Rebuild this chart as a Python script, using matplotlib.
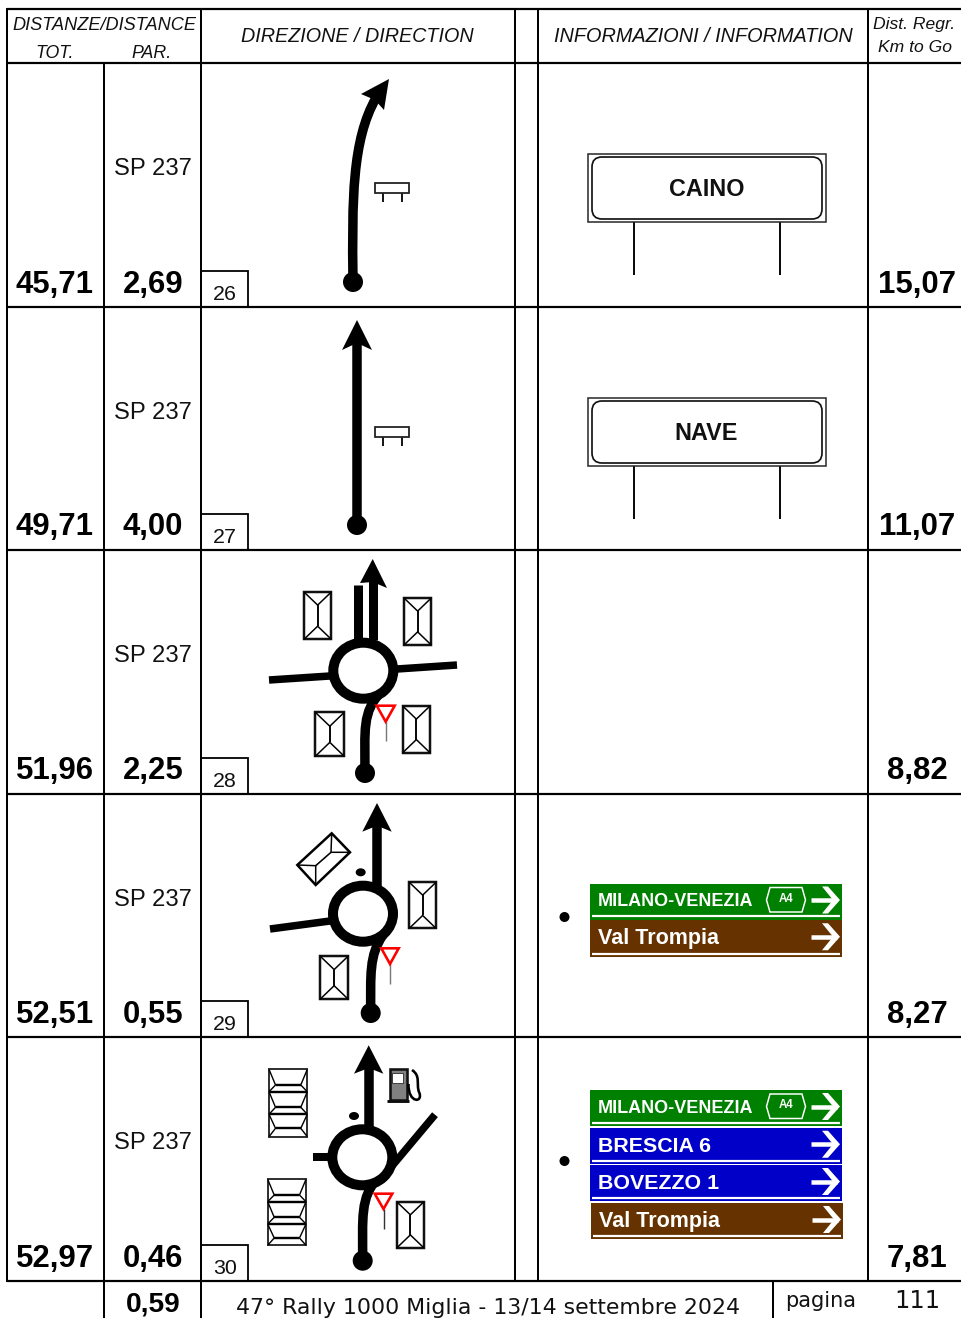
import matplotlib
matplotlib.use("Agg")
import matplotlib.pyplot as plt
from matplotlib.patches import Ellipse, Polygon, Rectangle, FancyBboxPatch, Circle, PathPatch
from matplotlib.path import Path

# ---- data -------------------------------------------------------------
row_ids = ["26", "27", "28", "29", "30"]
total_km = ["45,71", "49,71", "51,96", "52,51", "52,97"]
partial_km = ["2,69", "4,00", "2,25", "0,55", "0,46"]
road_names = ["SP 237", "SP 237", "SP 237", "SP 237", "SP 237"]
km_to_go = ["15,07", "11,07", "8,82", "8,27", "7,81"]
next_partial = "0,59"
town_signs = {0: "CAINO", 1: "NAVE"}
footer_title = "47° Rally 1000 Miglia - 13/14 settembre 2024"
footer_page_label = "pagina"
footer_page = "111"

plt.rcParams["font.family"] = ["Liberation Sans", "DejaVu Sans"]

W, H = 961, 1318
fig = plt.figure(figsize=(W / 100, H / 100), dpi=100, facecolor="white")
ax = fig.add_axes([0, 0, 1, 1])
ax.set_xlim(0, W)
ax.set_ylim(H, 0)
ax.axis("off")

def px(v):
    return v * 0.72

ROW_TOPS = [63, 307, 550, 794, 1037]
ROW_BOT = [307, 550, 794, 1037, 1281]

def line(xs, ys, w=2.0, c="black", cap="butt", z=2):
    ax.plot(xs, ys, color=c, lw=px(w), solid_capstyle=cap, solid_joinstyle="miter", zorder=z)

def text(x, y, s, size, **kw):
    kw.setdefault("ha", "center")
    kw.setdefault("va", "center")
    kw.setdefault("color", "black")
    return ax.text(x, y, s, fontsize=size, **kw)

# ---- table grid -------------------------------------------------------
for y in [9, 63] + ROW_BOT[:-1]:
    line([7, 961], [y, y], 2.2)
line([7, 961], [1281, 1281], 2.2)
line([7, 7], [8, 1282], 2.0)
line([104, 104], [63, 1318], 2.0)
line([201, 201], [8, 1318], 2.0)
line([515, 515], [8, 1282], 2.0)
line([538, 538], [8, 1282], 2.0)
line([868, 868], [8, 1282], 2.0)
line([773, 773], [1281, 1318], 2.0)

# ---- header -----------------------------------------------------------
text(104, 26, "DISTANZE/DISTANCE", 13.1, style="italic", color="#111111")
text(55, 54, "TOT.", 12.8, style="italic", color="#111111")
text(151.5, 54, "PAR.", 12.8, style="italic", color="#111111")
text(357.5, 37, "DIREZIONE / DIRECTION", 14.2, style="italic", color="#111111")
text(703, 37, "INFORMAZIONI / INFORMATION", 14.3, style="italic", color="#111111")
text(914.5, 25, "Dist. Regr.", 12.6, style="italic", color="#111111")
text(915, 48, "Km to Go", 12.6, style="italic", color="#111111")

# ---- rows: values -----------------------------------------------------
for i, top in enumerate(ROW_TOPS):
    bot = ROW_BOT[i]
    text(55, bot - 22.5, total_km[i], 22.4, weight="bold")
    text(153, bot - 22.5, partial_km[i], 22.4, weight="bold")
    text(917, bot - 22.5, km_to_go[i], 22.4, weight="bold")
    text(152.5, top + 106, road_names[i], 17.1, color="#111111")
    line([201, 248, 248], [bot - 36, bot - 36, bot], 1.8)
    text(225, bot - 12.5, row_ids[i], 15.4, color="#111111")

text(153, 1305, next_partial, 20.2, weight="bold")
text(488, 1308, footer_title, 15.8, family="DejaVu Sans", color="#111111")
text(821, 1301, footer_page_label, 15.0, family="DejaVu Sans", color="#111111")
text(917, 1301, footer_page, 17.5, family="DejaVu Sans", color="#111111")

# ---- pictogram helpers ------------------------------------------------
def curve(verts, w=9.5):
    codes = [Path.MOVETO] + [Path.CURVE4] * (len(verts) - 1)
    ax.add_patch(PathPatch(Path(verts, codes), fill=False, ec="black", lw=px(w),
                           capstyle="butt", zorder=3))

def arrow_head(tip, left, notch, right):
    ax.add_patch(Polygon([tip, left, notch, right], closed=True, fc="black", ec="none", zorder=4))

def dot(x, y, r=10):
    ax.add_patch(Circle((x, y), r, fc="black", ec="none", zorder=4))

def roundabout(cx, cy):
    ax.add_patch(Ellipse((cx, cy), 60, 56, fc="white", ec="black", lw=px(10), zorder=5))

def small_dot(x, y):
    ax.add_patch(Ellipse((x, y), 10, 8, fc="black", ec="none", zorder=4))

def building(x0, y0, x1, y1):
    ax.add_patch(Rectangle((x0, y0), x1 - x0, y1 - y0, fc="white", ec="#111111", lw=px(2.5), zorder=3))
    mx = (x0 + x1) / 2
    ya, yb = y0 + (x1 - x0) * 0.48, y1 - (x1 - x0) * 0.48
    line([x0, mx, x1], [y0, ya, y0], 1.5, z=4)
    line([x0, mx, x1], [y1, yb, y1], 1.5, z=4)
    line([mx, mx], [ya, yb], 1.9, z=4)

def rotated_building(a, b, c, d, r1, r2):
    ax.add_patch(Polygon([a, b, c, d], closed=True, fc="white", ec="black", lw=px(2.5), zorder=3))
    line([a[0], r1[0], b[0]], [a[1], r1[1], b[1]], 1.5, z=4)
    line([c[0], r2[0], d[0]], [c[1], r2[1], d[1]], 1.5, z=4)
    line([r1[0], r2[0]], [r1[1], r2[1]], 1.6, z=4)

def stacked(x0, y0, x1, y1, ridges, seps):
    ax.add_patch(Rectangle((x0, y0), x1 - x0, y1 - y0, fc="white", ec="#333333", lw=px(2.0), zorder=3))
    ins = (x1 - x0) * 0.17
    edges = [y0] + seps + [y1]
    for k, r in enumerate(ridges):
        line([x0 + ins, x1 - ins], [r, r], 2.4, z=4)
        line([x0, x0 + ins, x0], [edges[k], r, edges[k + 1]], 1.4, z=4)
        line([x1, x1 - ins, x1], [edges[k], r, edges[k + 1]], 1.4, z=4)
    for s in seps:
        line([x0, x1], [s, s], 2.4, z=4)

def yield_sign(x0, x1, y0, y1, post_end, post_color="#777777"):
    mx = (x0 + x1) / 2
    line([mx, mx], [y1, post_end], 1.4, c=post_color)
    ax.add_patch(Polygon([(x0, y0), (x1, y0), (mx, y1)], closed=True, fc="white", ec="#ff0000",
                         lw=px(2.6), zorder=5, joinstyle="miter"))

def bench(dy):
    ax.add_patch(Rectangle((375, 183 + dy), 34, 10, fc="white", ec="#222222", lw=px(1.8), zorder=3))
    line([383, 383], [193 + dy, 202 + dy], 1.8)
    line([402, 402], [193 + dy, 202 + dy], 1.8)

def town_sign(dy, name):
    ax.add_patch(Rectangle((588, 154 + dy), 237.5, 67.5, fc="white", ec="#222222", lw=px(1.5), zorder=3))
    ax.add_patch(FancyBboxPatch((601, 166 + dy), 212, 44, boxstyle="round,pad=9,rounding_size=10",
                                fc="white", ec="#111111", lw=px(1.7), zorder=4))
    line([634, 634], [222 + dy, 275 + dy], 1.9)
    line([780, 780], [222 + dy, 275 + dy], 1.9)
    text(706.5, 189.5 + dy, name, 16.8, weight="bold", zorder=5, color="#111111")

def white_arrow(x, y):
    line([x, x + 26], [y, y], 4.5, c="white", z=6)
    ax.add_patch(Polygon([(x + 11, y - 13.5), (x + 17, y - 13.5), (x + 29, y), (x + 17, y + 13.5), (x + 11, y + 13.5),
                          (x + 22, y)], closed=True, fc="white", ec="none", zorder=6))

def panel(x0, x1, y0, y1, color, label, size, shield=False):
    ax.add_patch(Rectangle((x0, y0), x1 - x0, y1 - y0, fc=color, ec="none", zorder=3))
    line([x0 + 2, x1 - 2], [y1 - 3.5, y1 - 3.5], 2.2, c="white", z=4)
    cy = (y0 + y1) / 2 - 1.5
    text(x0 + 8, cy + 2, label, size, ha="left", color="white", weight="bold", zorder=6)
    white_arrow(x0 + 221, cy)
    if shield:
        sx = x0 + 176.5
        ax.add_patch(Polygon([(sx, cy), (sx + 3.5, cy - 12.5), (sx + 35.5, cy - 12.5), (sx + 39, cy),
                              (sx + 35.5, cy + 12), (sx + 3.5, cy + 12)], closed=True, fc=color, ec="white",
                             lw=px(1.5), zorder=5))
        text(sx + 19.5, cy - 1, "A4", 8.3, color="white", weight="bold", zorder=6)

# ---- row 26 -----------------------------------------------------------
curve([(353, 282), (352, 200), (352, 140), (376, 98)], 9.5)
arrow_head((389, 79), (361, 94), (375, 100), (384, 110))
dot(353, 282)
bench(0)
town_sign(0, town_signs[0])

# ---- row 27 -----------------------------------------------------------
line([357, 357], [525, 342], 9.5, z=3)
arrow_head((357, 320), (342, 350), (357, 343), (372, 350))
dot(357, 525)
bench(244)
town_sign(244, town_signs[1])

# ---- row 28 -----------------------------------------------------------
line([269, 330], [680, 676], 7.5, z=3)
line([397, 457], [669, 665], 7.5, z=3)
line([357.5, 357.5], [585, 642], 9, z=3)
line([372.5, 372.5], [640, 580], 9, z=3)
arrow_head((372.7, 559), (360, 583), (372.7, 582), (387, 588))
curve([(365, 773), (365, 730), (362, 712), (381, 692)], 9.5)
dot(365, 773)
roundabout(363.3, 670.7)
building(304, 592, 331.3, 639.3)
building(404, 598, 431.3, 645)
building(315.3, 712.3, 344.3, 756.3)
building(402.7, 706, 430, 752.7)
yield_sign(376.7, 394.7, 705.7, 721.7, 741)

# ---- row 29 -----------------------------------------------------------
line([270, 330], [929, 921], 7.5, z=3)
line([377, 377], [890, 824], 9.5, z=3)
arrow_head((377, 803), (362.3, 831.7), (377, 825.7), (391.7, 831.7))
curve([(370.7, 1013), (370.7, 975), (369, 955), (383, 935)], 9.5)
dot(370.7, 1013)
roundabout(363, 913.7)
small_dot(360.7, 872.3)
rotated_building((331.7, 833.3), (350, 852.3), (315.7, 885), (297.3, 865), (331, 852.3), (315.7, 865.7))
building(409.3, 882.3, 436, 928.3)
building(320, 956, 348.3, 999.3)
yield_sign(381.3, 398.7, 948.3, 964, 983.7)

# ---- row 30 -----------------------------------------------------------
line([368.7, 368.7], [1130, 1067], 9.5, z=3)
arrow_head((368.7, 1045.3), (354, 1073.7), (368.7, 1068), (383.3, 1073.7))
line([313.3, 330], [1157, 1157], 8, z=3)
line([435, 392], [1114.7, 1166], 7.5, z=3)
curve([(362.7, 1261), (362.7, 1218), (360, 1197), (378, 1178)], 9.5)
dot(362.7, 1260.7)
roundabout(362.3, 1157.3)
small_dot(354, 1116)
stacked(269, 1069.3, 307.3, 1136.7, [1085, 1107.3, 1128.3], [1091.7, 1114.3])
stacked(267.7, 1179.3, 306, 1245.3, [1195, 1217.3, 1238], [1201.7, 1224])
building(396.7, 1201.7, 424, 1248)
yield_sign(374.7, 392.3, 1193.7, 1209, 1229, post_color="#333333")

# fuel pump
ax.add_patch(Rectangle((389.5, 1068.5), 17, 31, fc="#808080", ec="#111111", lw=px(2.6), zorder=3))
ax.add_patch(Rectangle((392, 1072.5), 10.5, 10, fc="white", ec="#222222", lw=px(0.8), zorder=4))
line([386.5, 409], [1100.5, 1100.5], 2.8)
ax.add_patch(PathPatch(Path([(412, 1070), (421, 1076), (416, 1084), (419, 1092), (424, 1103), (408, 1104), (408.5, 1084)],
                            [Path.MOVETO, Path.CURVE4, Path.CURVE4, Path.CURVE4, Path.CURVE4, Path.CURVE4, Path.CURVE4]),
                       fill=False, ec="black", lw=px(2.6), zorder=3))

# ---- direction panels -------------------------------------------------
GREEN, BLUE, BROWN = "#008000", "#0000c8", "#663300"
dot(564.5, 917, 5)
panel(590, 842, 883.5, 919.5, GREEN, "MILANO-VENEZIA", 13.0, True)
panel(590, 842, 919.5, 957, BROWN, "Val Trompia", 15.5)

dot(564.5, 1161, 5)
panel(590, 842, 1090, 1126, GREEN, "MILANO-VENEZIA", 13.0, True)
panel(590, 842, 1127.5, 1164, BLUE, "BRESCIA 6", 15.4)
panel(590, 842, 1165, 1201, BLUE, "BOVEZZO 1", 15.4)
panel(591, 843, 1203, 1239, BROWN, "Val Trompia", 15.5)

fig.savefig("out.png", dpi=100, facecolor="white")
